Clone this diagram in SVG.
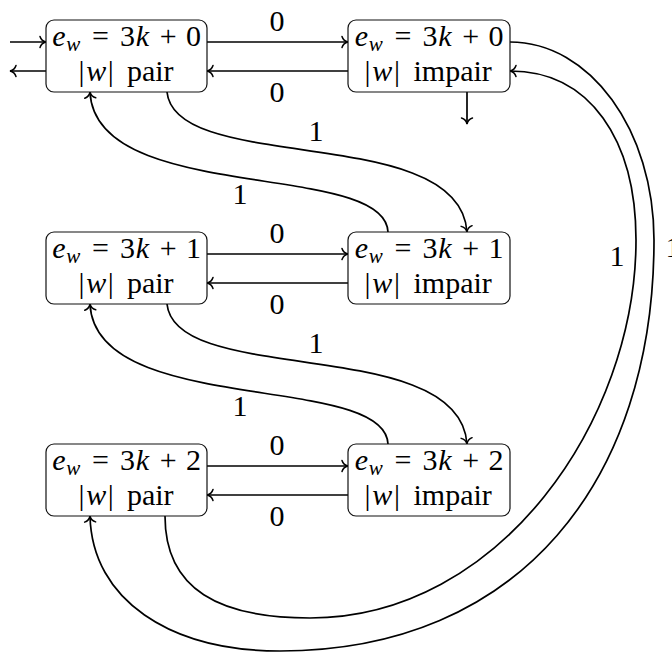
<svg xmlns="http://www.w3.org/2000/svg" width="672" height="653" viewBox="0 0 672 653">
  <defs>
    <marker id="to" markerUnits="userSpaceOnUse" markerWidth="14" markerHeight="14" viewBox="-8 -7 10 14" refX="0" refY="0" orient="auto">
      <path d="M-6,-5.5 C-5,-2.2 -2.2,-0.5 0,0 C-2.2,0.5 -5,2.2 -6,5.5" fill="none" stroke="#000" stroke-width="1.5" stroke-linecap="round"/>
    </marker>
  </defs>
  <rect width="672" height="653" fill="#fff"/>

  <!-- connectors -->
  <g id="connectors" fill="none" stroke="#000" stroke-width="1.7">
    <!-- entry / exit -->
    <path d="M10,42 H46" marker-end="url(#to)"/>
    <path d="M46,71 H10" marker-end="url(#to)"/>
    <path d="M467,92 V124" marker-end="url(#to)"/>
    <!-- horizontal 0-transitions -->
    <path d="M207,42 H348" marker-end="url(#to)"/>
    <path d="M348,71 H207" marker-end="url(#to)"/>
    <path d="M207,254 H348" marker-end="url(#to)"/>
    <path d="M348,283 H207" marker-end="url(#to)"/>
    <path d="M207,466 H348" marker-end="url(#to)"/>
    <path d="M348,495 H207" marker-end="url(#to)"/>
    <!-- 1-transitions between rows -->
    <path d="M167,92 C175,175 460,122 467,232" marker-end="url(#to)"/>
    <path d="M388,232 C385,160 95,205 90,92" marker-end="url(#to)"/>
    <path d="M167,304 C175,387 460,334 467,444" marker-end="url(#to)"/>
    <path d="M388,444 C385,372 95,417 90,304" marker-end="url(#to)"/>
    <!-- wrap-around 1-transitions -->
    <path d="M510,42 C590,42 654,130 654,240 C654,480 520,651 280,651 C170,651 92,600 90,516" marker-end="url(#to)"/>
    <path d="M165,516 C165,590 220,618 310,618 C500,618 636,420 636,240 C636,140 590,71 510,71" marker-end="url(#to)"/>
  </g>

  <!-- transition labels -->
  <g id="labels">
    <text x="277" y="31" font-family="Liberation Serif" font-size="30" text-anchor="middle">0</text>
    <text x="277" y="102" font-family="Liberation Serif" font-size="30" text-anchor="middle">0</text>
    <text x="277" y="243" font-family="Liberation Serif" font-size="30" text-anchor="middle">0</text>
    <text x="277" y="314" font-family="Liberation Serif" font-size="30" text-anchor="middle">0</text>
    <text x="277" y="455" font-family="Liberation Serif" font-size="30" text-anchor="middle">0</text>
    <text x="277" y="526" font-family="Liberation Serif" font-size="30" text-anchor="middle">0</text>
    <text x="316" y="141" font-family="Liberation Serif" font-size="30" text-anchor="middle">1</text>
    <text x="240" y="204" font-family="Liberation Serif" font-size="30" text-anchor="middle">1</text>
    <text x="316" y="353" font-family="Liberation Serif" font-size="30" text-anchor="middle">1</text>
    <text x="240" y="416" font-family="Liberation Serif" font-size="30" text-anchor="middle">1</text>
    <text x="617" y="266" font-family="Liberation Serif" font-size="30" text-anchor="middle">1</text>
    <text x="673" y="257" font-family="Liberation Serif" font-size="30" text-anchor="middle">1</text>
  </g>

  <!-- states: left column = |w| pair, right column = |w| impair -->
  <g id="s0p">
    <rect x="46" y="20" width="161" height="72" rx="8" fill="#fff" stroke="#111" stroke-width="1.2"/>
    <text font-family="Liberation Serif" font-size="30" text-anchor="middle"><tspan x="58.9" y="46" font-style="italic">e</tspan><tspan x="73.2" y="50.5" font-style="italic" font-size="21">w</tspan><tspan x="100.4" y="46">=</tspan><tspan x="127.4" y="46">3</tspan><tspan x="142.5" y="46" font-style="italic">k</tspan><tspan x="168.2" y="46">+</tspan><tspan x="193.6" y="46">0</tspan></text>
    <text font-family="Liberation Serif" font-size="30" text-anchor="middle"><tspan x="81.5" y="81">|</tspan><tspan x="96.2" y="81" font-style="italic">w</tspan><tspan x="110.8" y="81">|</tspan><tspan x="150.2" y="81">pair</tspan></text>
  </g>
  <g id="s0i">
    <rect x="348" y="20" width="162" height="72" rx="8" fill="#fff" stroke="#111" stroke-width="1.2"/>
    <text font-family="Liberation Serif" font-size="30" text-anchor="middle"><tspan x="361.4" y="46" font-style="italic">e</tspan><tspan x="375.7" y="50.5" font-style="italic" font-size="21">w</tspan><tspan x="402.9" y="46">=</tspan><tspan x="429.9" y="46">3</tspan><tspan x="445" y="46" font-style="italic">k</tspan><tspan x="470.7" y="46">+</tspan><tspan x="496.1" y="46">0</tspan></text>
    <text font-family="Liberation Serif" font-size="30" text-anchor="middle"><tspan x="367.6" y="81">|</tspan><tspan x="382.3" y="81" font-style="italic">w</tspan><tspan x="396.9" y="81">|</tspan><tspan x="452.7" y="81">impair</tspan></text>
  </g>
  <g id="s1p">
    <rect x="46" y="232" width="161" height="72" rx="8" fill="#fff" stroke="#111" stroke-width="1.2"/>
    <text font-family="Liberation Serif" font-size="30" text-anchor="middle"><tspan x="58.9" y="258" font-style="italic">e</tspan><tspan x="73.2" y="262.5" font-style="italic" font-size="21">w</tspan><tspan x="100.4" y="258">=</tspan><tspan x="127.4" y="258">3</tspan><tspan x="142.5" y="258" font-style="italic">k</tspan><tspan x="168.2" y="258">+</tspan><tspan x="193.6" y="258">1</tspan></text>
    <text font-family="Liberation Serif" font-size="30" text-anchor="middle"><tspan x="81.5" y="293">|</tspan><tspan x="96.2" y="293" font-style="italic">w</tspan><tspan x="110.8" y="293">|</tspan><tspan x="150.2" y="293">pair</tspan></text>
  </g>
  <g id="s1i">
    <rect x="348" y="232" width="162" height="72" rx="8" fill="#fff" stroke="#111" stroke-width="1.2"/>
    <text font-family="Liberation Serif" font-size="30" text-anchor="middle"><tspan x="361.4" y="258" font-style="italic">e</tspan><tspan x="375.7" y="262.5" font-style="italic" font-size="21">w</tspan><tspan x="402.9" y="258">=</tspan><tspan x="429.9" y="258">3</tspan><tspan x="445" y="258" font-style="italic">k</tspan><tspan x="470.7" y="258">+</tspan><tspan x="496.1" y="258">1</tspan></text>
    <text font-family="Liberation Serif" font-size="30" text-anchor="middle"><tspan x="367.6" y="293">|</tspan><tspan x="382.3" y="293" font-style="italic">w</tspan><tspan x="396.9" y="293">|</tspan><tspan x="452.7" y="293">impair</tspan></text>
  </g>
  <g id="s2p">
    <rect x="46" y="444" width="161" height="72" rx="8" fill="#fff" stroke="#111" stroke-width="1.2"/>
    <text font-family="Liberation Serif" font-size="30" text-anchor="middle"><tspan x="58.9" y="470" font-style="italic">e</tspan><tspan x="73.2" y="474.5" font-style="italic" font-size="21">w</tspan><tspan x="100.4" y="470">=</tspan><tspan x="127.4" y="470">3</tspan><tspan x="142.5" y="470" font-style="italic">k</tspan><tspan x="168.2" y="470">+</tspan><tspan x="193.6" y="470">2</tspan></text>
    <text font-family="Liberation Serif" font-size="30" text-anchor="middle"><tspan x="81.5" y="505">|</tspan><tspan x="96.2" y="505" font-style="italic">w</tspan><tspan x="110.8" y="505">|</tspan><tspan x="150.2" y="505">pair</tspan></text>
  </g>
  <g id="s2i">
    <rect x="348" y="444" width="162" height="72" rx="8" fill="#fff" stroke="#111" stroke-width="1.2"/>
    <text font-family="Liberation Serif" font-size="30" text-anchor="middle"><tspan x="361.4" y="470" font-style="italic">e</tspan><tspan x="375.7" y="474.5" font-style="italic" font-size="21">w</tspan><tspan x="402.9" y="470">=</tspan><tspan x="429.9" y="470">3</tspan><tspan x="445" y="470" font-style="italic">k</tspan><tspan x="470.7" y="470">+</tspan><tspan x="496.1" y="470">2</tspan></text>
    <text font-family="Liberation Serif" font-size="30" text-anchor="middle"><tspan x="367.6" y="505">|</tspan><tspan x="382.3" y="505" font-style="italic">w</tspan><tspan x="396.9" y="505">|</tspan><tspan x="452.7" y="505">impair</tspan></text>
  </g>
</svg>
